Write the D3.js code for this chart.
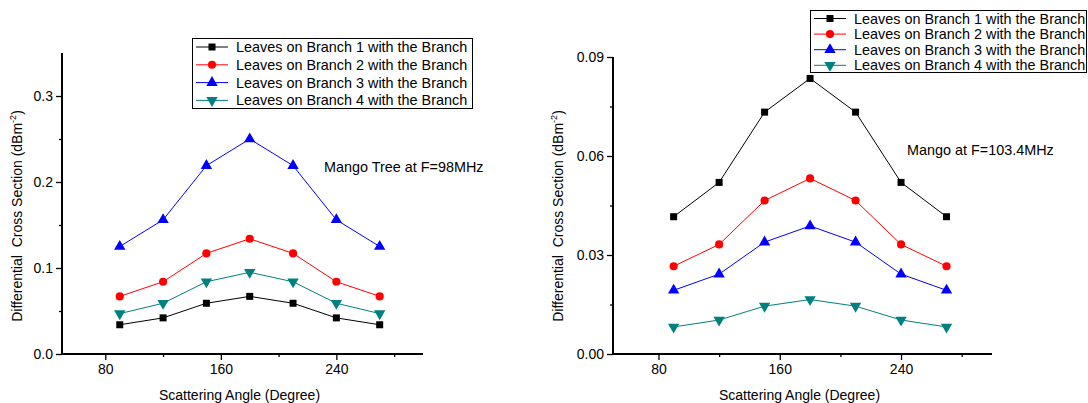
<!DOCTYPE html>
<html><head><meta charset="utf-8">
<script src="https://cdn.jsdelivr.net/npm/d3@7"></script>
<style>
html,body{margin:0;padding:0;background:#fff;}
svg{display:block;font-family:"Liberation Sans",Arial,sans-serif;}
</style></head>
<body><svg id="chart" width="1088" height="403"></svg>
<script>
// ---- data ----
const angles = [90, 120, 150, 180, 210, 240, 270];
const seriesNames = [
  "Leaves on Branch 1 with the Branch",
  "Leaves on Branch 2 with the Branch",
  "Leaves on Branch 3 with the Branch",
  "Leaves on Branch 4 with the Branch"
];
const seriesColors = ["#000000", "#ff0000", "#0000ff", "#008080"];
// Left: Mango Tree at F=98MHz
const left1 = [0.034, 0.042, 0.059, 0.067, 0.059, 0.042, 0.034];
const left2 = [0.067, 0.084, 0.117, 0.134, 0.117, 0.084, 0.067];
const left3 = [0.125, 0.156, 0.219, 0.250, 0.219, 0.156, 0.125];
const left4 = [0.047, 0.059, 0.084, 0.095, 0.084, 0.059, 0.047];
// Right: Mango at F=103.4MHz
const right1 = [0.0416, 0.0520, 0.0733, 0.0835, 0.0733, 0.0520, 0.0416];
const right2 = [0.0266, 0.0332, 0.0465, 0.0532, 0.0465, 0.0332, 0.0266];
const right3 = [0.0193, 0.0242, 0.0339, 0.0388, 0.0339, 0.0242, 0.0193];
const right4 = [0.0082, 0.0103, 0.0145, 0.0165, 0.0145, 0.0103, 0.0082];
const xTicks = [80, 160, 240];
const xMinor = [120, 200, 280];
const leftYTicks = [0.0, 0.1, 0.2, 0.3];
const leftYMinor = [0.05, 0.15, 0.25];
const rightYTicks = [0.00, 0.03, 0.06, 0.09];
const rightYMinor = [0.015, 0.045, 0.075];
const leftNote = "Mango Tree at F=98MHz";
const rightNote = "Mango at F=103.4MHz";
const xTitle = "Scattering Angle (Degree)";

const svg = d3.select("#chart");

const panels = [
  {series:[left1,left2,left3,left4], x0:62, x1:423, y0:354, y1:53, ymax:0.35,
   yTicks:leftYTicks, yMinor:leftYMinor, yFmt:d3.format(".1f"),
   note:leftNote, noteX:324, noteY:172, ylabX:22,
   leg:{x:192, y:38, w:280, h:70, row:17.8, first:9}},
  {series:[right1,right2,right3,right4], x0:613, x1:992, y0:354, y1:57, ymax:0.09,
   yTicks:rightYTicks, yMinor:rightYMinor, yFmt:d3.format(".2f"),
   note:rightNote, noteX:907, noteY:155, ylabX:563,
   leg:{x:810, y:10, w:276, h:62, row:15.6, first:8.5}}
];

const symbols = [d3.symbolSquare, d3.symbolCircle, d3.symbolTriangle, d3.symbolTriangle];
const symSizes = [49, 52, 56, 56];
const symRot = [0, 0, 0, 180];

panels.forEach(p => {
  const x = d3.scaleLinear().domain([50, 300]).range([p.x0, p.x1]);
  const y = d3.scaleLinear().domain([0, p.ymax]).range([p.y0, p.y1]);
  const g = svg.append("g");

  // x axis
  const xa = g.append("g").attr("transform", `translate(0,${p.y0})`)
    .call(d3.axisBottom(x).tickValues(xTicks).tickSize(6).tickPadding(4).tickFormat(d3.format("d")));
  xa.append("g").call(d3.axisBottom(x).tickValues(xMinor).tickSize(3).tickFormat(""))
    .select(".domain").remove();
  // y axis
  const ya = g.append("g").attr("transform", `translate(${p.x0},0)`)
    .call(d3.axisLeft(y).tickValues(p.yTicks).tickSize(6).tickPadding(3).tickFormat(p.yFmt));
  ya.append("g").call(d3.axisLeft(y).tickValues(p.yMinor).tickSize(3).tickFormat(""))
    .select(".domain").remove();
  [xa, ya].forEach(a => {
    a.selectAll(".domain").attr("stroke", "#000").attr("stroke-width", 2).attr("d", null);
    a.selectAll(".tick line").attr("stroke", "#000").attr("stroke-width", 1.3);
    a.selectAll("text").attr("font-size", 14).attr("fill", "#000")
      .attr("font-family", '"Liberation Sans",Arial,sans-serif');
  });
  xa.select(".domain").attr("d", `M${p.x0},0H${p.x1}`);
  ya.select(".domain").attr("d", `M0,${p.y0}V${p.y1}`);

  // axis titles
  g.append("text").attr("x", (p.x0 + p.x1) / 2 - 3).attr("y", 400)
    .attr("text-anchor", "middle").attr("font-size", 14).text(xTitle);
  const yl = g.append("text")
    .attr("transform", `translate(${p.ylabX},216) rotate(-90)`)
    .attr("text-anchor", "middle").attr("font-size", 14);
  yl.append("tspan").text("Differential\u00a0\u00a0Cross Section (dBm");
  yl.append("tspan").attr("dy", -6).attr("font-size", 9).text("-2");
  yl.append("tspan").attr("dy", 6).text(")");

  // series
  const line = d3.line().x((d, i) => x(angles[i])).y(d => y(d));
  p.series.forEach((vals, si) => {
    g.append("path").attr("d", line(vals)).attr("fill", "none")
      .attr("stroke", seriesColors[si]).attr("stroke-width", 1);
    g.selectAll(null).data(vals).enter().append("path")
      .attr("d", d3.symbol().type(symbols[si]).size(symSizes[si]))
      .attr("transform", (d, i) => `translate(${x(angles[i])},${y(d)}) rotate(${symRot[si]})`)
      .attr("fill", seriesColors[si]);
  });

  // note
  g.append("text").attr("x", p.noteX).attr("y", p.noteY).attr("font-size", 14.4).text(p.note);

  // legend
  const L = p.leg;
  const lg = g.append("g");
  lg.append("rect").attr("x", L.x + 0.5).attr("y", L.y + 0.5).attr("width", L.w).attr("height", L.h)
    .attr("fill", "#fff").attr("stroke", "#000").attr("stroke-width", 1);
  seriesNames.forEach((name, si) => {
    const cy = L.y + L.first + si * L.row;
    lg.append("line").attr("x1", L.x + 4).attr("x2", L.x + 36).attr("y1", cy).attr("y2", cy)
      .attr("stroke", seriesColors[si]).attr("stroke-width", 1);
    lg.append("path").attr("d", d3.symbol().type(symbols[si]).size(symSizes[si]))
      .attr("transform", `translate(${L.x + 20},${cy}) rotate(${symRot[si]})`)
      .attr("fill", seriesColors[si]);
    lg.append("text").attr("x", L.x + 44).attr("y", cy + 5).attr("font-size", 14.4).text(name);
  });
});
</script>
</body></html>
